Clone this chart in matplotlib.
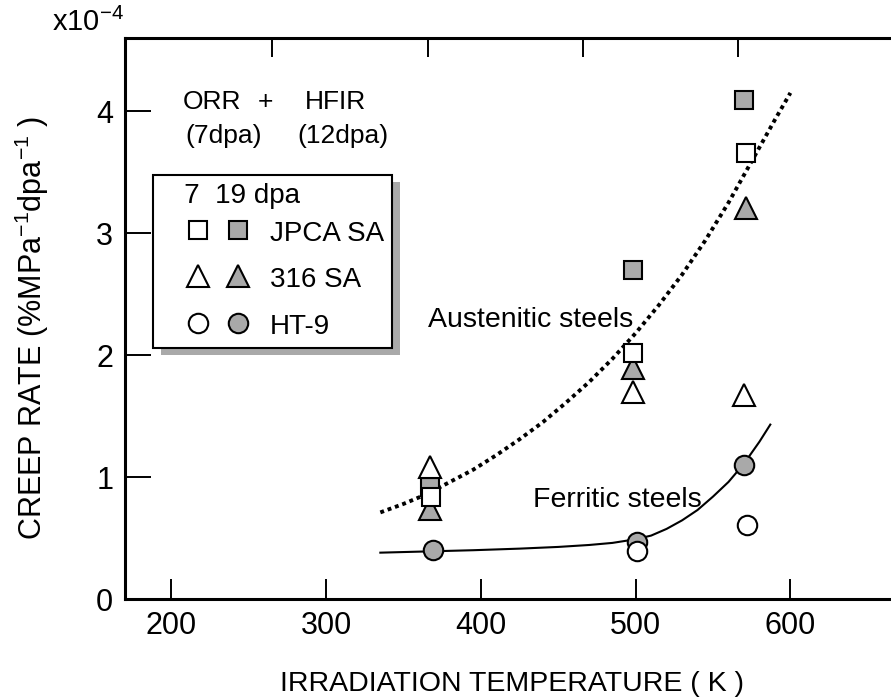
import matplotlib
matplotlib.use("Agg")
import matplotlib.pyplot as plt
from matplotlib.legend_handler import HandlerTuple
from matplotlib.patches import Rectangle
from matplotlib.ticker import FixedLocator

plt.rcParams['font.family'] = ['Liberation Sans', 'DejaVu Sans']
plt.rcParams['mathtext.fontset'] = 'custom'
plt.rcParams['mathtext.rm'] = 'Liberation Sans'
plt.rcParams['mathtext.it'] = 'Liberation Sans:italic'

# irradiation temperature (K) vs creep rate (x1e-4 %/MPa/dpa)
# open = ORR 7 dpa, filled = ORR+HFIR 19 dpa
jpca_open_T = [368, 498, 571]
jpca_open_rate = [0.84, 2.02, 3.66]
jpca_fill_T = [367, 498, 570]
jpca_fill_rate = [0.92, 2.70, 4.09]
ss316_open_T = [367, 498, 570]
ss316_open_rate = [1.08, 1.70, 1.67]
ss316_fill_T = [367, 498, 571]
ss316_fill_rate = [0.74, 1.89, 3.21]
ht9_open_T = [501, 572]
ht9_open_rate = [0.39, 0.61]
ht9_fill_T = [369, 501, 570]
ht9_fill_rate = [0.40, 0.47, 1.10]

# trend curves
aust_T = [335, 350, 365, 380, 395, 410, 425, 440, 455, 470,
          485, 500, 515, 530, 545, 560, 575, 590, 600]
aust_rate = [0.71, 0.78, 0.86, 0.96, 1.06, 1.18, 1.31, 1.45, 1.61, 1.78,
             1.97, 2.18, 2.41, 2.66, 2.94, 3.25, 3.59, 3.93, 4.15]
ferr_T = [335, 365, 395, 425, 450, 470, 485, 500, 510, 520,
          530, 540, 550, 560, 570, 580, 587]
ferr_rate = [0.38, 0.39, 0.40, 0.413, 0.427, 0.443, 0.46, 0.49, 0.52, 0.575,
             0.645, 0.73, 0.84, 0.96, 1.11, 1.29, 1.43]

series_labels = ["JPCA SA", "316 SA", "HT-9"]
x_ticks = [200, 300, 400, 500, 600]
y_ticks = [0, 1, 2, 3, 4]
top_ticks = [265, 366, 466, 566]

gray = "#a9a9a9"

fig = plt.figure(figsize=(8.91, 6.97), dpi=100)
ax = fig.add_axes([0.1403, 0.1406, 0.8597, 0.8049])

ax.plot(aust_T, aust_rate, color="black", lw=2.8, linestyle=(0, (1, 1.0)),
        dash_capstyle="butt", zorder=2)
ax.plot(ferr_T, ferr_rate, color="black", lw=1.5, zorder=2)

mk = dict(ls="none", mec="black", mew=1.5, zorder=3)
sq_f, = ax.plot(jpca_fill_T, jpca_fill_rate, marker="s", ms=13, mfc=gray, **mk)
tr_f, = ax.plot(ss316_fill_T, ss316_fill_rate, marker="^", ms=16, mfc=gray, **mk)
ci_f, = ax.plot(ht9_fill_T, ht9_fill_rate, marker="o", ms=14, mfc=gray, **mk)
sq_o, = ax.plot(jpca_open_T, jpca_open_rate, marker="s", ms=13, mfc="white", **mk)
tr_o, = ax.plot(ss316_open_T, ss316_open_rate, marker="^", ms=16, mfc="white", **mk)
ci_o, = ax.plot(ht9_open_T, ht9_open_rate, marker="o", ms=14, mfc="white", **mk)

ax.set_xlim(170, 665)
ax.set_ylim(0, 4.6)
ax.set_xticks(x_ticks)
ax.set_yticks(y_ticks)
ax.xaxis.set_minor_locator(FixedLocator(top_ticks))

for s in ["left", "bottom", "top"]:
    ax.spines[s].set_linewidth(2.2)
ax.spines["right"].set_visible(False)

ax.tick_params(axis="x", which="major", direction="in", length=14.4, width=1.4,
               top=False, bottom=True, labelsize=22, pad=8.5)
ax.tick_params(axis="x", which="minor", direction="in", length=13.7, width=1.4,
               top=True, bottom=False)
ax.tick_params(axis="y", direction="in", length=18.7, width=1.4, right=False,
               labelsize=22, pad=8.5)

ax.set_xlabel("IRRADIATION TEMPERATURE ( K )", fontsize=20.5)
ax.xaxis.set_label_coords(0.505, -0.128)
ax.set_ylabel("CREEP RATE (%MPa$^{-1}$dpa$^{-1}$ )", fontsize=22)
ax.yaxis.set_label_coords(-0.096, 0.483)

fig.text(0.058, 0.956, "x10$^{-4}$", fontsize=21, va="baseline")

ax.text(207, 4.02, "ORR", fontsize=19, va="baseline")
ax.text(261, 4.02, "+", fontsize=19, va="baseline", ha="center")
ax.text(286, 4.02, "HFIR", fontsize=19, va="baseline")
ax.text(209, 3.74, "(7dpa)", fontsize=19, va="baseline")
ax.text(281.5, 3.74, "(12dpa)", fontsize=19, va="baseline")
ax.text(365.7, 2.23, "Austenitic steels", fontsize=20.5, va="baseline")
ax.text(433.7, 0.754, "Ferritic steels", fontsize=20.5, va="baseline")

leg = ax.legend([(sq_o, sq_f), (tr_o, tr_f), (ci_o, ci_f)], series_labels,
                handler_map={tuple: HandlerTuple(ndivide=None, pad=0, xpad=0.62)},
                title="   7  19 dpa", title_fontsize=20, alignment="left",
                loc="upper left", bbox_to_anchor=(0.0366, 0.7558), borderaxespad=0,
                frameon=True, fancybox=False, framealpha=1, edgecolor="black",
                fontsize=20, handlelength=3.46, handleheight=1.0,
                handletextpad=0.45, labelspacing=0.66, borderpad=0.3)
leg.get_frame().set_linewidth(1.5)
leg._legend_box.sep = 7

# offset gray shadow behind the legend box
fig.canvas.draw()
bb = leg.get_frame().get_window_extent()
inv = ax.transAxes.inverted()
x0, y0 = inv.transform((bb.x0 + 8, bb.y0 - 7))
x1, y1 = inv.transform((bb.x1 + 8, bb.y1 - 7))
ax.add_patch(Rectangle((x0, y0), x1 - x0, y1 - y0, transform=ax.transAxes,
                       facecolor=gray, edgecolor="none", zorder=4.9, clip_on=False))

fig.savefig("out.png", dpi=100)
